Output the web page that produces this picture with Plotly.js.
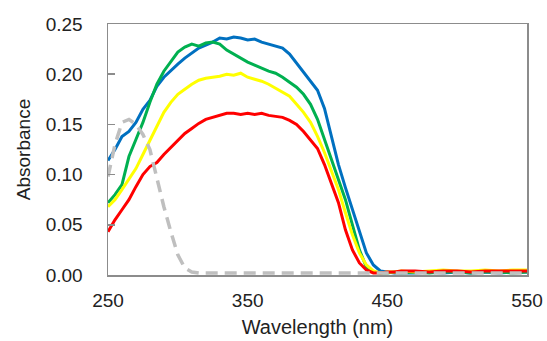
<!DOCTYPE html>
<html>
<head>
<meta charset="utf-8">
<script src="https://cdn.plot.ly/plotly-3.0.1.min.js"></script>
<style>html,body{margin:0;padding:0;background:#fff;}#chart{width:547px;height:341px;}</style>
</head>
<body>
<div id="chart"></div>
<script>
var wavelength = [250,255,260,265,270,275,280,285,290,295,300,305,310,315,320,325,330,335,340,345,350,355,360,365,370,375,380,385,390,395,400,405,410,415,420,425,430,435,440,445,450,455,460,470,480,490,500,510,520,530,540,550];

var blue = [0.114,0.125,0.138,0.143,0.152,0.165,0.174,0.188,0.197,0.204,0.210,0.216,0.221,0.226,0.229,0.232,0.236,0.235,0.237,0.236,0.234,0.235,0.232,0.230,0.228,0.226,0.220,0.211,0.203,0.193,0.184,0.166,0.138,0.110,0.087,0.065,0.043,0.022,0.010,0.004,0.003,0.002,0.002,0.002,0.003,0.002,0.003,0.002,0.003,0.002,0.003,0.003];

var green = [0.072,0.080,0.090,0.118,0.135,0.152,0.172,0.190,0.203,0.213,0.222,0.227,0.230,0.228,0.231,0.232,0.230,0.224,0.220,0.216,0.212,0.209,0.206,0.203,0.201,0.197,0.192,0.187,0.180,0.170,0.155,0.135,0.115,0.097,0.075,0.050,0.025,0.008,0.003,0.002,0.002,0.003,0.002,0.003,0.002,0.003,0.003,0.002,0.003,0.003,0.002,0.003];

var yellow = [0.068,0.075,0.085,0.095,0.106,0.120,0.134,0.148,0.162,0.172,0.180,0.185,0.190,0.194,0.196,0.197,0.198,0.200,0.199,0.201,0.197,0.195,0.193,0.190,0.186,0.182,0.178,0.170,0.162,0.152,0.138,0.122,0.103,0.085,0.062,0.040,0.022,0.010,0.004,0.002,0.003,0.003,0.004,0.003,0.004,0.005,0.004,0.004,0.005,0.004,0.005,0.005];

var red = [0.043,0.055,0.065,0.075,0.088,0.100,0.108,0.112,0.120,0.127,0.135,0.141,0.146,0.151,0.155,0.157,0.159,0.161,0.161,0.160,0.161,0.160,0.161,0.159,0.158,0.157,0.154,0.150,0.143,0.135,0.126,0.110,0.092,0.072,0.045,0.025,0.012,0.005,0.002,0.002,0.003,0.003,0.004,0.004,0.003,0.004,0.004,0.003,0.004,0.004,0.004,0.004];

var gray = [0.098,0.130,0.152,0.155,0.150,0.140,0.125,0.095,0.068,0.043,0.020,0.007,0.003,0.002,0.002,0.002,0.002,0.002,0.002,0.002,0.002,0.002,0.002,0.002,0.002,0.002,0.002,0.002,0.002,0.002,0.002,0.002,0.002,0.002,0.002,0.002,0.002,0.002,0.002,0.002,0.002,0.002,0.002,0.002,0.002,0.002,0.002,0.002,0.002,0.002,0.002,0.002];

var seriesNames = ['blue','green','yellow','red','gray'];
var seriesData = [blue, green, yellow, red, gray];
var seriesColors = ['#0070C0','#00B050','#FFFF00','#FF0000','#BFBFBF'];

var traces = seriesData.map(function(d, i){
  return {
    x: wavelength, y: d, type: 'scatter', mode: 'lines', name: seriesNames[i],
    line: {color: seriesColors[i], width: i === 4 ? 3.5 : 3, dash: i === 4 ? '12px,7px' : 'solid'},
    hoverinfo: 'none'
  };
});

var font = {family: 'Liberation Sans, Arial, sans-serif', size: 19, color: '#222'};
var xTitleFont = {family: 'Liberation Sans, Arial, sans-serif', size: 20, color: '#222'};

var layout = {
  width: 547, height: 341,
  margin: {l: 108, r: 20, t: 24, b: 66},
  paper_bgcolor: '#fff', plot_bgcolor: '#fff',
  showlegend: false,
  font: font,
  xaxis: {
    range: [250, 550], tickvals: [250, 350, 450, 550], ticktext: ['250','350','450','550'],
    showgrid: false, zeroline: false, showline: true, mirror: true,
    linecolor: '#8c8c8c', linewidth: 1.5, ticks: '',
    tickfont: font, ticklabelstandoff: 8,
    title: {text: 'Wavelength (nm)', font: xTitleFont, standoff: 9}
  },
  yaxis: {
    range: [0, 0.25], tickvals: [0, 0.05, 0.10, 0.15, 0.20, 0.25],
    ticktext: ['0.00','0.05','0.10','0.15','0.20','0.25'],
    showgrid: false, zeroline: false, showline: true, mirror: true,
    linecolor: '#8c8c8c', linewidth: 1.5, ticks: 'inside', ticklen: 7, tickcolor: '#8c8c8c', tickwidth: 1.5,
    tickfont: font, ticklabelstandoff: 20,
    title: {text: 'Absorbance', font: font, standoff: 10}
  }
};

Plotly.newPlot('chart', traces, layout, {staticPlot: true, displayModeBar: false});
</script>
</body>
</html>
